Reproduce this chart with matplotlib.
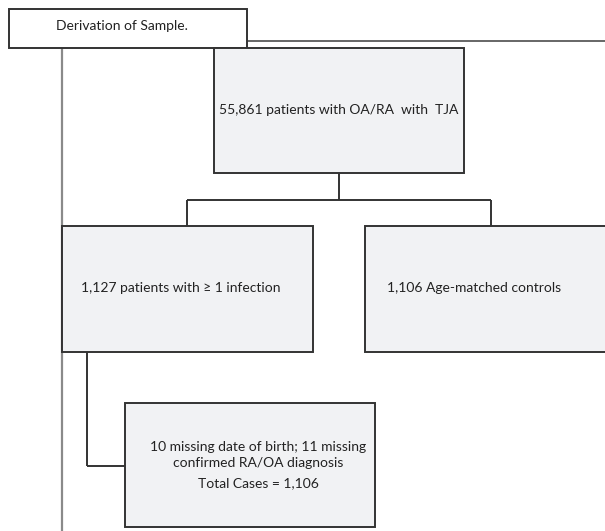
import matplotlib
matplotlib.use("Agg")
import matplotlib.pyplot as plt
from matplotlib.patches import Rectangle

plt.rcParams['font.family'] = ['Lato', 'DejaVu Sans']

title_text = "Derivation of Sample."
top_label = "55,861 patients with OA/RA  with  TJA"
left_label = "1,127 patients with \u2265 1 infection"
right_label = "1,106 Age-matched controls"
bottom_lines = ["10 missing date of birth; 11 missing", "confirmed RA/OA diagnosis", "Total Cases = 1,106"]

W, H = 605, 531
fig = plt.figure(figsize=(W / 100, H / 100), dpi=100)
ax = fig.add_axes([0, 0, 1, 1])
ax.set_xlim(0, W)
ax.set_ylim(H, 0)
ax.axis("off")

edge = "#333333"
fill = "#f1f2f4"
lw = 1.4
fs = 10

def box(x0, y0, x1, y1, fc=fill, ec=edge, z=2):
    ax.add_patch(Rectangle((x0, y0), x1 - x0, y1 - y0, facecolor=fc, edgecolor=ec, lw=lw, zorder=z))

def line(xs, ys, color=edge, w=lw, z=1):
    ax.plot(xs, ys, color=color, lw=w, zorder=z, solid_capstyle="butt", solid_joinstyle="miter")

# frame lines
line([247, 605], [41, 41], color="#666666", w=1.4)
line([62, 62], [48, 531], color="#8a8a8a", w=1.6)

# title box
box(9, 9, 247, 48, fc="white")
ax.text(122, 26, title_text, ha="center", va="center", fontsize=fs, color="#222222", zorder=5)

# main box
box(214, 48, 464, 173)
ax.text(339, 110, top_label, ha="center", va="center", fontsize=fs, color="#222222", zorder=5)

# connectors
line([339, 339], [173, 200])
line([187, 491], [200, 200])
line([187, 187], [200, 226])
line([491, 491], [200, 226])

# second row
box(62, 226, 313, 352)
ax.text(181, 288, left_label, ha="center", va="center", fontsize=fs, color="#222222", zorder=5)
box(365, 226, 640, 352)
ax.text(474, 288, right_label, ha="center", va="center", fontsize=fs, color="#222222", zorder=5)

# bottom connector and box
line([87, 87], [352, 466])
line([87, 125], [466, 466])
box(125, 403, 375, 527)
for y, t in zip([447, 463, 483], bottom_lines):
    ax.text(258, y, t, ha="center", va="center", fontsize=fs, color="#222222", zorder=5)

fig.savefig("out.png", dpi=100, facecolor="white")
